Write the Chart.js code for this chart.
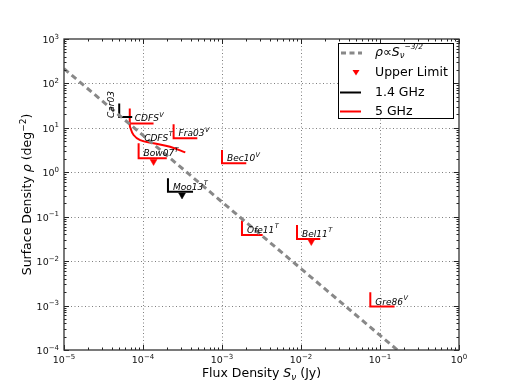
<!DOCTYPE html>
<html>
<head>
<meta charset="utf-8">
<script src="https://cdn.jsdelivr.net/npm/chart.js@4.4.1/dist/chart.umd.min.js"></script>
<style>
  html, body { margin: 0; padding: 0; background: #fff; }
  #wrap { width: 510px; height: 390px; position: relative; }
</style>
</head>
<body>
<div id="wrap"><canvas id="grafico"></canvas></div>
<script>
// axes
const fluxTicks = [1e-5, 1e-4, 1e-3, 1e-2, 1e-1, 1];
const fluxTickExponents = ["-5", "-4", "-3", "-2", "-1", "0"];
const densityTicks = [1e-4, 1e-3, 1e-2, 1e-1, 1, 10, 100, 1000];
const densityTickExponents = ["-4", "-3", "-2", "-1", "0", "1", "2", "3"];

// rho ~ S^-3/2 reference line (end points)
const slopeFlux = [1e-5, 0.166];
const slopeDensity = [215, 1e-4];

// surveys: corner of each limit, and how far the limit bars reach
const surveyNames = ["Car03", "CDFS", "Fra03", "Bow07", "Moo13", "Bec10", "Ofe11", "Bel11", "Gre86"];
const surveyTags = ["", "V", "V", "T", "T", "V", "T", "T", "V"];
const surveyBand = ["1.4", "5", "5", "5", "1.4", "5", "5", "5", "5"];
const surveyFlux = [5.0e-5, 6.8e-5, 2.44e-4, 8.8e-5, 2.07e-4, 1.0e-3, 1.79e-3, 8.9e-3, 0.0754];
const surveyDensity = [17.5, 12.6, 5.8, 2.06, 0.366, 1.59, 0.039, 0.0317, 9.5e-4];
const surveyFluxEnd = [7.3e-5, 1.36e-4, 4.87e-4, 2.0e-4, 4.3e-4, 2.03e-3, 3.27e-3, 0.0175, 0.153];
const surveyDensityTop = [35.5, 27.4, 12, 4.5, 0.73, 3.17, 0.082, 0.065, 2.0e-3];

// CDFS transient curve
const cdfsCurveFlux = [6.8e-5, 6.85e-5, 7.6e-5, 9.2e-5, 1.36e-4, 2.2e-4, 3.43e-4];
const cdfsCurveDensity = [12.6, 10.6, 6.9, 5.3, 4.5, 3.76, 2.8];

// upper limits
const limitFlux = [1.36e-4, 3.12e-4, 0.0135];
const limitDensity = [1.75, 0.309, 0.0276];
const limitBand = ["5", "1.4", "5"];

const bandColor = { "1.4": "#000000", "5": "#ff0000" };
const FONT = '"DejaVu Sans"';

const datasets = [];
datasets.push({
  data: slopeFlux.map((x, i) => ({ x: x, y: slopeDensity[i] })),
  borderColor: "#888888",
  borderWidth: 3,
  borderDash: [6, 4],
  pointRadius: 0
});
surveyNames.forEach((name, i) => {
  datasets.push({
    data: [
      { x: surveyFlux[i], y: surveyDensityTop[i] },
      { x: surveyFlux[i], y: surveyDensity[i] },
      { x: surveyFluxEnd[i], y: surveyDensity[i] }
    ],
    borderColor: bandColor[surveyBand[i]],
    borderWidth: 2,
    pointRadius: 0
  });
});
datasets.push({
  data: cdfsCurveFlux.map((x, i) => ({ x: x, y: cdfsCurveDensity[i] })),
  borderColor: "#ff0000",
  borderWidth: 2,
  pointRadius: 0,
  tension: 0.35
});
datasets.push({
  data: limitFlux.map((x, i) => ({ x: x, y: limitDensity[i] })),
  showLine: false,
  pointStyle: "triangle",
  rotation: 180,
  pointRadius: 4,
  pointBackgroundColor: limitBand.map(b => bandColor[b]),
  pointBorderColor: limitBand.map(b => bandColor[b]),
  pointBorderWidth: 0.5
});

function drawRich(ctx, parts, x, y, align) {
  let w = 0;
  parts.forEach(p => { ctx.font = p[1]; w += ctx.measureText(p[0]).width; });
  let cx = x;
  if (align === "center") cx = x - w / 2;
  if (align === "right") cx = x - w;
  parts.forEach(p => {
    ctx.font = p[1];
    ctx.fillText(p[0], cx, y + (p[2] || 0));
    cx += ctx.measureText(p[0]).width;
  });
}

function drawTagged(ctx, name, tag, x, y) {
  ctx.font = "italic 9px " + FONT;
  ctx.fillText(name, x, y);
  const w = ctx.measureText(name).width;
  if (tag) {
    ctx.font = "italic 6.5px " + FONT;
    ctx.fillText(tag, x + w + 0.5, y - 4.5);
  }
}

function powerLabel(exp) {
  return [["10", "9.5px " + FONT], [exp.replace("-", "−"), "7px " + FONT, -4.5]];
}

const decor = {
  id: "decor",
  beforeDatasetsDraw(chart) {
    const ctx = chart.ctx, a = chart.chartArea;
    const xs = chart.scales.x, ys = chart.scales.y;
    ctx.save();
    ctx.strokeStyle = "rgba(0,0,0,0.5)";
    ctx.lineWidth = 1;
    ctx.setLineDash([1, 2.5]);
    fluxTicks.slice(1, -1).forEach(v => {
      const x = Math.round(xs.getPixelForValue(v)) + 0.5;
      ctx.beginPath(); ctx.moveTo(x, a.top); ctx.lineTo(x, a.bottom); ctx.stroke();
    });
    densityTicks.slice(1, -1).forEach(v => {
      const y = Math.round(ys.getPixelForValue(v)) + 0.5;
      ctx.beginPath(); ctx.moveTo(a.left, y); ctx.lineTo(a.right, y); ctx.stroke();
    });
    ctx.restore();
  },
  afterDraw(chart) {
    const ctx = chart.ctx, a = chart.chartArea;
    const xs = chart.scales.x, ys = chart.scales.y;
    ctx.save();

    // ticks, inward on all four sides
    ctx.strokeStyle = "#222";
    ctx.lineWidth = 1;
    ctx.setLineDash([]);
    function tickSet(values, major) {
      const len = major ? 5 : 2.5;
      values.forEach(v => {
        if (v >= 1e-5 && v <= 1) {
          const x = Math.round(xs.getPixelForValue(v)) + 0.5;
          ctx.beginPath();
          ctx.moveTo(x, a.bottom); ctx.lineTo(x, a.bottom - len);
          ctx.moveTo(x, a.top); ctx.lineTo(x, a.top + len);
          ctx.stroke();
        }
        if (v >= 1e-4 && v <= 1e3) {
          const y = Math.round(ys.getPixelForValue(v)) + 0.5;
          ctx.beginPath();
          ctx.moveTo(a.left, y); ctx.lineTo(a.left + len, y);
          ctx.moveTo(a.right, y); ctx.lineTo(a.right - len, y);
          ctx.stroke();
        }
      });
    }
    const minors = [];
    for (let d = -5; d < 3; d++) for (let k = 2; k < 10; k++) minors.push(k * Math.pow(10, d));
    tickSet(minors, false);
    tickSet(densityTicks.concat(fluxTicks), true);

    // frame
    ctx.strokeStyle = "#333";
    ctx.lineWidth = 1.3;
    ctx.strokeRect(a.left, a.top, a.right - a.left, a.bottom - a.top);

    // tick labels
    ctx.fillStyle = "#111";
    ctx.textBaseline = "alphabetic";
    fluxTicks.forEach((v, i) => {
      drawRich(ctx, powerLabel(fluxTickExponents[i]), xs.getPixelForValue(v), a.bottom + 13, "center");
    });
    densityTicks.forEach((v, i) => {
      drawRich(ctx, powerLabel(densityTickExponents[i]), a.left - 5, ys.getPixelForValue(v) + 4, "right");
    });

    // survey labels
    ctx.fillStyle = "#000";
    ctx.textAlign = "left";
    surveyNames.forEach((name, i) => {
      const x = xs.getPixelForValue(surveyFlux[i]);
      const y = ys.getPixelForValue(surveyDensity[i]);
      if (surveyTags[i] === "") {
        ctx.save();
        ctx.translate(x - 5, y + 1);
        ctx.rotate(-Math.PI / 2);
        drawTagged(ctx, name, "", 0, 0);
        ctx.restore();
      } else {
        drawTagged(ctx, name, surveyTags[i], x + 5, y - 2);
      }
    });
    drawTagged(ctx, "CDFS", "T",
      xs.getPixelForValue(cdfsCurveFlux[3]) + 4,
      ys.getPixelForValue(cdfsCurveDensity[3]) + 0.5);

    // legend
    const lx = 338, ly = 43, lw = 115, lh = 75;
    ctx.fillStyle = "#fff";
    ctx.fillRect(lx, ly, lw, lh);
    ctx.strokeStyle = "#000";
    ctx.lineWidth = 1;
    ctx.strokeRect(lx + 0.5, ly + 0.5, lw, lh);
    const rows = [53, 72.5, 92.5, 111.5];
    ctx.lineWidth = 3;
    ctx.strokeStyle = "#888";
    ctx.setLineDash([5, 3.5]);
    ctx.beginPath(); ctx.moveTo(341, rows[0]); ctx.lineTo(362, rows[0]); ctx.stroke();
    ctx.setLineDash([]);
    ctx.fillStyle = "#ff0000";
    ctx.beginPath();
    ctx.moveTo(352.5, rows[1] - 2.5); ctx.lineTo(359.5, rows[1] - 2.5); ctx.lineTo(356, rows[1] + 3);
    ctx.closePath(); ctx.fill();
    ctx.lineWidth = 2;
    ctx.strokeStyle = "#000";
    ctx.beginPath(); ctx.moveTo(340, rows[2]); ctx.lineTo(361, rows[2]); ctx.stroke();
    ctx.strokeStyle = "#ff0000";
    ctx.beginPath(); ctx.moveTo(340, rows[3]); ctx.lineTo(361, rows[3]); ctx.stroke();

    ctx.fillStyle = "#000";
    ctx.textBaseline = "middle";
    const f = "12.5px " + FONT, fi = "italic 12.5px " + FONT;
    drawRich(ctx, [["ρ", fi], ["∝", f], ["S", fi], ["ν", "italic 8.5px " + FONT, 3], ["−3/2", "italic 7.5px " + FONT, -5.5]], 375, rows[0], "left");
    drawRich(ctx, [["Upper Limit", f]], 375, rows[1], "left");
    drawRich(ctx, [["1.4 GHz", f]], 375, rows[2], "left");
    drawRich(ctx, [["5 GHz", f]], 375, rows[3], "left");

    // axis titles
    ctx.textBaseline = "alphabetic";
    drawRich(ctx, [["Flux Density ", f], ["S", fi], ["ν", "italic 9px " + FONT, 3], [" (Jy)", f]],
      (a.left + a.right) / 2, 377, "center");
    ctx.translate(31, (a.top + a.bottom) / 2);
    ctx.rotate(-Math.PI / 2);
    drawRich(ctx, [["Surface Density ", f], ["ρ", fi], [" (deg", f], ["−2", "9px " + FONT, -5], [")", f]],
      0, 0, "center");
    ctx.restore();
  }
};

new Chart(document.getElementById("grafico"), {
  type: "line",
  data: { datasets: datasets },
  options: {
    responsive: true,
    maintainAspectRatio: false,
    animation: false,
    layout: { padding: { top: 39, right: 51, left: 0, bottom: 0 } },
    plugins: { legend: { display: false }, tooltip: { enabled: false }, title: { display: false } },
    scales: {
      x: {
        type: "logarithmic",
        min: 1e-5,
        max: 1,
        afterBuildTicks: s => { s.ticks = fluxTicks.map(v => ({ value: v })); },
        afterFit: s => { s.height = 40; },
        grid: { display: false, drawTicks: false },
        border: { display: false },
        ticks: { display: false }
      },
      y: {
        type: "logarithmic",
        min: 1e-4,
        max: 1e3,
        afterBuildTicks: s => { s.ticks = densityTicks.map(v => ({ value: v })); },
        afterFit: s => { s.width = 64; },
        grid: { display: false, drawTicks: false },
        border: { display: false },
        ticks: { display: false }
      }
    }
  },
  plugins: [decor]
});
</script>
</body>
</html>
